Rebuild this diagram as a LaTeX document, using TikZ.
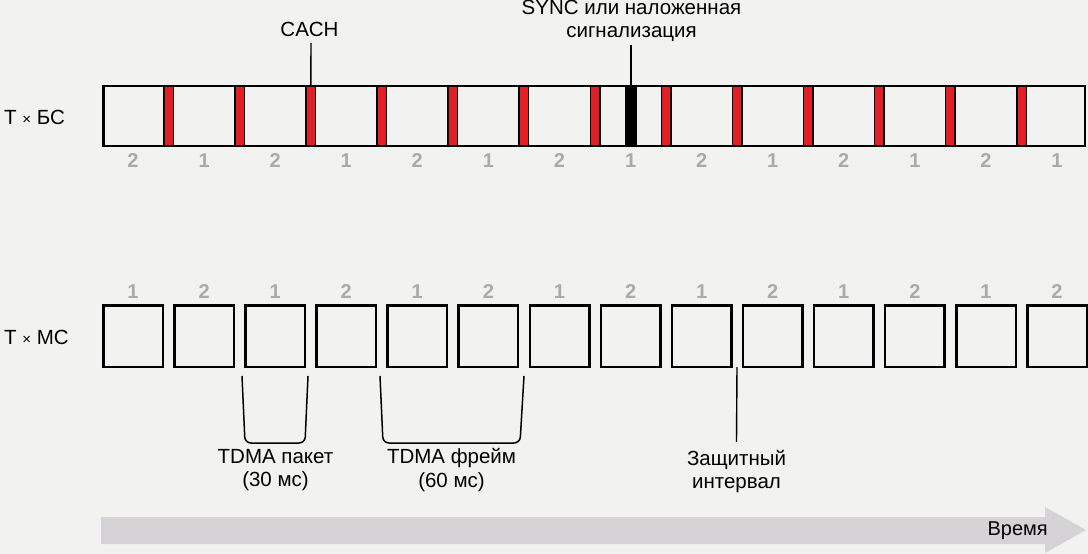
\documentclass[tikz,border=0pt]{standalone}
\usepackage{fontspec}
\setmainfont{Liberation Sans}
\definecolor{paper}{RGB}{242,242,240}
\definecolor{cachred}{RGB}{227,30,36}
\definecolor{numgray}{RGB}{170,170,170}
\definecolor{timegray}{RGB}{213,211,214}

\begin{document}
\begin{tikzpicture}[x=1pt,y=-1pt,font=\fontsize{20.5}{23.5}\selectfont]
  \tikzstyle{slotbox}=[draw,line width=2.5pt,minimum width=59.5pt,minimum height=61.5pt,inner sep=0pt]
  \tikzstyle{cachbar}=[draw,fill=cachred,line width=1.5pt,minimum width=9.5pt,minimum height=60pt,inner sep=0pt]
  \tikzstyle{num}=[text=numgray,inner sep=0pt,font=\fontsize{20}{20}\selectfont\bfseries]
  \tikzstyle{txt}=[align=center,inner sep=2pt]
  \tikzstyle{lead}=[line width=1.4pt]
  \tikzstyle{bracketline}=[line width=1.5pt,rounded corners=6pt]
  \fill[paper] (0,0) rectangle (1088,554);
  \useasboundingbox (0,0) rectangle (1088,554);

  % base station line
  \node[anchor=base west,inner sep=0pt] (TxBS) at (4,124) {T {\fontsize{15}{15}\selectfont×} БС};
  \node[draw,line width=2.5pt,minimum width=981.5pt,minimum height=60pt,inner sep=0pt] (F) at (594,116) {};
  \node[cachbar] (C_1) at (168.5,116) {};
  \node[cachbar] (C_2) at (239.6,116) {};
  \node[cachbar] (C_3) at (310.7,116) {};
  \node[cachbar] (C_4) at (381.7,116) {};
  \node[cachbar] (C_5) at (452.8,116) {};
  \node[cachbar] (C_6) at (523.9,116) {};
  \node[cachbar] (C_7) at (595.0,116) {};
  \node[cachbar] (C_8) at (666.1,116) {};
  \node[cachbar] (C_9) at (737.1,116) {};
  \node[cachbar] (C_10) at (808.2,116) {};
  \node[cachbar] (C_11) at (879.3,116) {};
  \node[cachbar] (C_12) at (950.4,116) {};
  \node[cachbar] (C_13) at (1021.5,116) {};
  \node[cachbar,fill=black,minimum width=10.5pt] (S) at (631,116) {};

  \node[num] (B_1) at (133,161) {2};
  \node[num] (B_2) at (204.1,161) {1};
  \node[num] (B_3) at (275.2,161) {2};
  \node[num] (B_4) at (346.2,161) {1};
  \node[num] (B_5) at (417.3,161) {2};
  \node[num] (B_6) at (488.4,161) {1};
  \node[num] (B_7) at (559.5,161) {2};
  \node[num] (B_8) at (630.6,161) {1};
  \node[num] (B_9) at (701.6,161) {2};
  \node[num] (B_10) at (772.7,161) {1};
  \node[num] (B_11) at (843.8,161) {2};
  \node[num] (B_12) at (914.9,161) {1};
  \node[num] (B_13) at (986.0,161) {2};
  \node[num] (B_14) at (1057.0,161) {1};

  \node[txt] (cach) at (309.5,29) {CACH};
  \coordinate (cachtop) at (311,43);
  \draw[lead] (cachtop) -- (C_3);
  \node[txt] (sync) at (631.5,21) {SYNC или наложенная\\сигнализация};
  \coordinate (synctop) at (631,45);
  \draw[lead] (synctop) -- (S);

  % mobile station line
  \node[anchor=base west,inner sep=0pt] (TxMS) at (4,344) {T {\fontsize{15}{15}\selectfont×} МС};
  \node[slotbox] (M_1) at (133,336) {};
  \node[slotbox] (M_2) at (204.1,336) {};
  \node[slotbox] (M_3) at (275.2,336) {};
  \node[slotbox] (M_4) at (346.2,336) {};
  \node[slotbox] (M_5) at (417.3,336) {};
  \node[slotbox] (M_6) at (488.4,336) {};
  \node[slotbox] (M_7) at (559.5,336) {};
  \node[slotbox] (M_8) at (630.6,336) {};
  \node[slotbox] (M_9) at (701.6,336) {};
  \node[slotbox] (M_10) at (772.7,336) {};
  \node[slotbox] (M_11) at (843.8,336) {};
  \node[slotbox] (M_12) at (914.9,336) {};
  \node[slotbox] (M_13) at (986.0,336) {};
  \node[slotbox] (M_14) at (1057.0,336) {};

  \node[num] (N_1) at (133,292) {1};
  \node[num] (N_2) at (204.1,292) {2};
  \node[num] (N_3) at (275.2,292) {1};
  \node[num] (N_4) at (346.2,292) {2};
  \node[num] (N_5) at (417.3,292) {1};
  \node[num] (N_6) at (488.4,292) {2};
  \node[num] (N_7) at (559.5,292) {1};
  \node[num] (N_8) at (630.6,292) {2};
  \node[num] (N_9) at (701.6,292) {1};
  \node[num] (N_10) at (772.7,292) {2};
  \node[num] (N_11) at (843.8,292) {1};
  \node[num] (N_12) at (914.9,292) {2};
  \node[num] (N_13) at (986.0,292) {1};
  \node[num] (N_14) at (1057.0,292) {2};

  \draw[bracketline] (242,376) -- (245,443) -- (305,443) -- (308,376);
  \draw[bracketline] (380,376) -- (383,443) -- (520,443) -- (524,376);
  \node[txt] (packet) at (275.5,470) {TDMA пакет\\(30 мс)};
  \node[txt] (frame) at (451.5,470) {TDMA фрейм\\(60 мс)};

  \node[txt] (guard) at (736.5,471.5) {Защитный\\интервал};
  \coordinate (gap) at (737,367);
  \draw[lead] (gap) -- ([yshift=6pt]guard.north);

  % time axis
  \fill[timegray] (101,517) -- (1045,517) -- (1045,507) -- (1086,530) -- (1045,553) -- (1045,544) -- (101,544) -- cycle;
  \node[anchor=base east,inner sep=0pt,font=\fontsize{20}{20}\selectfont] (time) at (1048,535) {Время};
\end{tikzpicture}
\end{document}
